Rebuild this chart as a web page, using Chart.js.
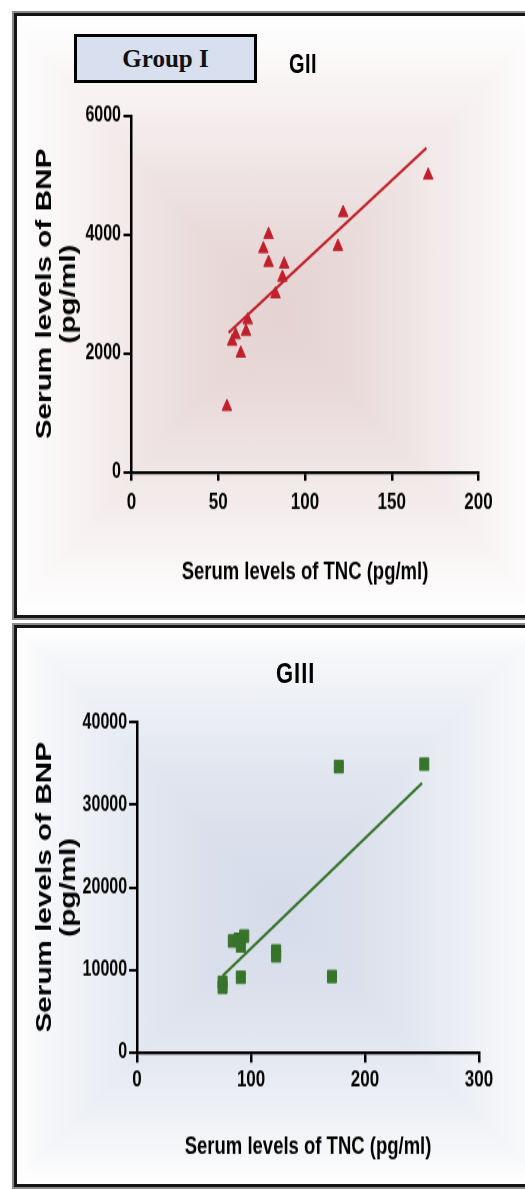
<!DOCTYPE html>
<html>
<head>
<meta charset="utf-8">
<script src="https://cdn.jsdelivr.net/npm/chart.js@4.4.0/dist/chart.umd.min.js"></script>
<style>
  html, body { margin: 0; padding: 0; background: #fff; }
  body { position: relative; width: 525px; height: 1189px; overflow: hidden; }
  .panel {
    position: absolute; left: 14px; width: 530px; box-sizing: border-box;
    border: 3px solid #151515; box-shadow: 0 0 0 2px #8a8a8a;
    background-color: transparent;
    background-blend-mode: lighten, normal;
  }
  #p1 {
    top: 13px; height: 605px;
    background-image:
      linear-gradient(to right, #fff 0px, #fcfafa 21px, #f5eeee 81px, #eee2e2 141px, #e8d8d8 201px, #e5d3d3 261px, #e8d8d8 321px, #eee2e2 381px, #f5eeee 441px, #fcfafa 501px),
      linear-gradient(to bottom, #fff 0px, #fcfafa 30px, #f5eeee 100px, #eee2e2 170px, #e8d8d8 235px, #e5d3d3 299px, #e8d8d8 365px, #eee2e2 430px, #f5eeee 500px, #fcfafa 570px, #fff 600px);
  }
  #p2 {
    top: 624.5px; height: 562px;
    background-image:
      linear-gradient(to right, #fff 0px, #f7f8fa 22px, #ebeef4 82px, #e1e5ef 142px, #d9dfeb 202px, #d5dbe9 262px, #d9dfeb 322px, #e1e5ef 382px, #ebeef4 442px, #f7f8fa 502px),
      linear-gradient(to bottom, #fff 0px, #f7f8fa 20px, #ebeef4 85px, #e1e5ef 150px, #d9dfeb 215px, #d5dbe9 277px, #d9dfeb 340px, #e1e5ef 405px, #ebeef4 470px, #f7f8fa 530px, #fff 556px);
  }
  .stage { position: absolute; left: 0; width: 525px; transform-origin: 0 0; }
  .stage canvas { position: absolute; left: 0; top: 0; }
  .ttl { position: absolute; font-family: "Liberation Sans", Arial, sans-serif; font-weight: bold; color: #000; white-space: nowrap; }
  .grp {
    position: absolute; left: 74px; top: 34px; width: 183px; height: 49px; box-sizing: border-box;
    border: 3px solid #000; background: #d8e0ef;
    font-family: "Liberation Serif", "Times New Roman", serif; font-weight: bold; font-size: 25px;
    line-height: 43px; text-align: center; color: #111;
  }
</style>
</head>
<body>
<div class="panel" id="p1"></div>
<div class="panel" id="p2"></div>

<div class="stage" id="s1" style="top:0px; height:459px;">
  <canvas id="c1" width="525" height="459"></canvas>
  <div class="ttl" style="left:289px; top:36px; font-size:20px; line-height:22px; letter-spacing:0.5px;">GII</div>
</div>
<div class="grp">Group I</div>

<div class="stage" id="s2" style="top:622px; height:420px;">
  <canvas id="c2" width="525" height="420"></canvas>
  <div class="ttl" style="left:276px; top:26px; font-size:22px; line-height:24px; letter-spacing:1px;">GIII</div>
</div>

<script>
// vertical stretch of the original figure
const S = 1.35;

// GII (red triangles)
const gIIx = [55, 58, 60, 63, 66, 67, 76, 79, 79, 83, 87, 88, 119, 122, 171];
const gIIy = [1100, 2200, 2310, 2000, 2370, 2560, 3760, 4000, 3530, 3000, 3280, 3500, 3800, 4370, 5000];
const gIIfitX = [56, 170];
const gIIfitY = [2350, 5460];
const gIIxTicks = [0, 50, 100, 150, 200];
const gIIyTicks = [0, 2000, 4000, 6000];

// GIII (green squares)
const gIIIx = [75, 75, 84, 89, 91, 94, 91, 122, 122, 171, 177, 252];
const gIIIy = [8500, 7900, 13500, 13700, 12900, 14100, 9100, 12300, 11700, 9200, 34600, 34900];
const gIIIfitX = [75, 250];
const gIIIfitY = [9260, 32590];
const gIIIxTicks = [0, 100, 200, 300];
const gIIIyTicks = [0, 10000, 20000, 30000, 40000];

const xTitle = 'Serum levels of TNC (pg/ml)';
const yTitle = ['Serum levels of BNP', '(pg/ml)'];

document.querySelectorAll('.stage').forEach(el => { el.style.transform = 'scaleY(' + S + ')'; });

function pts(xs, ys) {
  return xs.map((x, i) => ({x: x, y: ys[i]}));
}

function makeChart(id, o) {
  const ctx = document.getElementById(id);
  return new Chart(ctx, {
    type: 'scatter',
    data: {
      datasets: [
        {
          data: pts(o.xs, o.ys),
          pointStyle: o.marker,
          pointRadius: o.radius,
          backgroundColor: o.color,
          borderColor: o.color,
          borderWidth: 1,
        },
        {
          data: pts(o.fitX, o.fitY),
          showLine: true,
          borderColor: o.color,
          borderWidth: 2.2,
          pointRadius: 0,
          fill: false,
        },
      ],
    },
    options: {
      responsive: false,
      animation: false,
      events: [],
      layout: {padding: o.pad},
      plugins: {legend: {display: false}, tooltip: {enabled: false}},
      scales: {
        x: {
          type: 'linear',
          min: o.xTicks[0],
          max: o.xTicks[o.xTicks.length - 1],
          afterBuildTicks: s => { s.ticks = o.xTicks.map(v => ({value: v})); },
          afterFit: s => { s.height = o.xH; },
          border: {display: true, color: '#000', width: 2.2},
          grid: {drawOnChartArea: false, drawTicks: true, tickLength: o.xTL, color: '#000', lineWidth: 2.5},
          ticks: {color: '#000', padding: o.xPad, maxRotation: 0, callback: v => String(v),
            font: {family: 'Liberation Sans', weight: 'bold', size: 17}},
          title: {display: true, text: xTitle, color: '#000', padding: 0,
            font: {family: 'Liberation Sans', weight: 'bold', size: 18.5, lineHeight: 1.2}},
        },
        y: {
          type: 'linear',
          min: o.yTicks[0],
          max: o.yTicks[o.yTicks.length - 1],
          afterBuildTicks: s => { s.ticks = o.yTicks.map(v => ({value: v})); },
          afterFit: s => { s.width = o.yW; },
          border: {display: true, color: '#000', width: 2.5},
          grid: {drawOnChartArea: false, drawTicks: true, tickLength: 8, color: '#000', lineWidth: 2},
          ticks: {color: '#000', padding: o.yPad, callback: v => String(v),
            font: {family: 'Liberation Sans', weight: 'bold', size: 16}},
          title: {display: true, text: yTitle, color: '#000', padding: 0,
            font: {family: 'Liberation Sans', weight: 'bold', size: 22, lineHeight: 1.1}},
        },
      },
    },
  });
}

makeChart('c1', {
  xs: gIIx, ys: gIIy, fitX: gIIfitX, fitY: gIIfitY,
  xTicks: gIIxTicks, yTicks: gIIyTicks,
  marker: 'triangle', radius: 5.5, color: '#c0202a',
  pad: {left: 33, right: 46.5, top: 85.9, bottom: 24.2},
  xH: 85.2, xTL: 6.5, xPad: 5.6, yW: 98.5, yPad: 2.5,
});

makeChart('c2', {
  xs: gIIIx, ys: gIIIy, fitX: gIIIfitX, fitY: gIIIfitY,
  xTicks: gIIIxTicks, yTicks: gIIIyTicks,
  marker: 'rect', radius: 6.4, color: '#37742b',
  pad: {left: 33, right: 46, top: 74.1, bottom: 20},
  xH: 81.1, xTL: 7.4, xPad: 2.8, yW: 104.1, yPad: 2,
});
</script>
</body>
</html>
